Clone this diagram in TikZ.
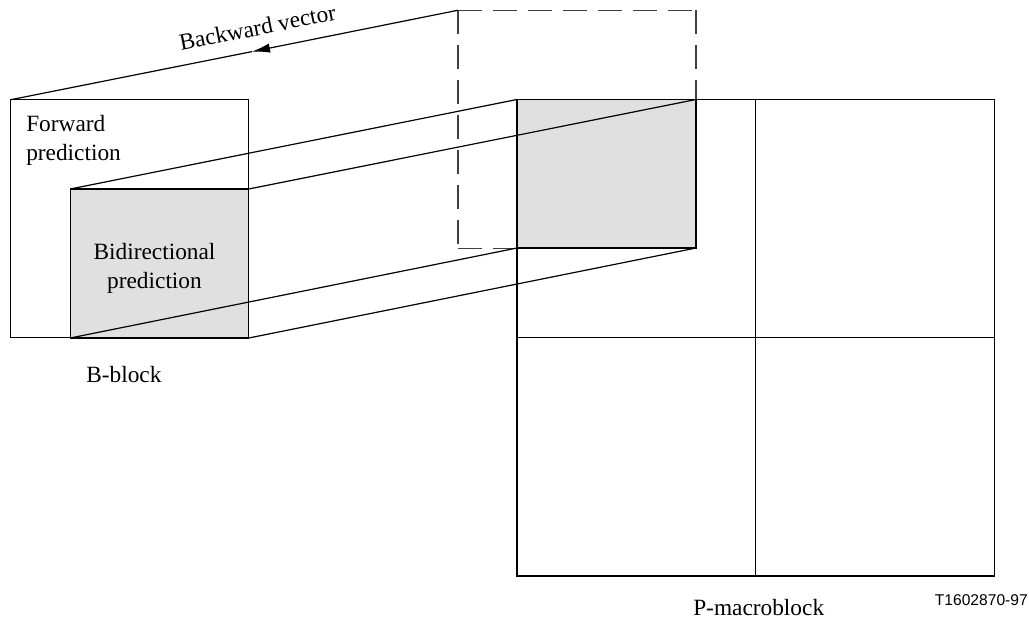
\documentclass[tikz,border=0pt]{standalone}
\usepackage{fontspec}
\setmainfont{Liberation Serif}
\newfontfamily\tagfont{Liberation Sans}
\usepackage{tikz}
\usetikzlibrary{
  arrows.meta
}
\tikzset{
  block/.style={draw,line width=0.9pt,inner sep=0pt,outer sep=0pt},
  shaded block/.style={block,fill=shade},
  ghost line/.style={draw=black!75,line width=1pt,dash pattern=on 18pt off 8.25pt},
  every label text/.style={inner sep=0pt,font=\fontsize{17.5}{21.4}\selectfont},
  link/.style={line width=0.9pt},
}
\colorlet{shade}{black!12}

\begin{document}
\begin{tikzpicture}[
  x=0.75pt,y=-0.75pt,
]
\useasboundingbox (0,0) rectangle (1029,619);

\node[block,minimum width=178.5pt,minimum height=178.5pt] (b-block) at (129.5,218.75) {};
\node[shaded block,minimum width=133.9pt,minimum height=111.75pt] (b-core) at (159.5,263.5) {};

\node[block,minimum width=358.2pt,minimum height=357.4pt] (p-block) at (755.8,337.75) {};
\draw[block] (p-block.north) -- (p-block.south);
\draw[block] (p-block.west) -- (p-block.east);
\node[inner sep=0pt,outer sep=0pt,minimum width=178.5pt,minimum height=178.5pt] (p-ghost) at (577,129.25) {};
\draw[ghost line] (p-ghost.north west) -- (p-ghost.north east);
\draw[ghost line] (p-ghost.north east) -- (p-ghost.south east);
\draw[ghost line] (p-ghost.north west) -- (p-ghost.south west);
\draw[ghost line] (p-ghost.south west) -- (p-ghost.south east);
\node[shaded block,minimum width=134.25pt,minimum height=111.4pt] (p-core) at (606.5,173.75) {};

\coordinate (vector-tip) at (252,51.6);
\draw[link] (b-block.north west) -- (vector-tip);
\draw[link,-{Latex[length=13.5pt,width=7pt]}] (p-ghost.north west) -- (vector-tip);
\draw[link] (b-core.north west) -- (p-core.north west);
\draw[link] (b-core.north east) -- (p-core.north east);
\draw[link] (b-core.south west) -- (p-core.south west);
\draw[link] (b-core.south east) -- (p-core.south east);

\node[every label text,rotate=11.25] (vector-text) at (257.5,27.5) {Backward vector};
\node[every label text,align=left,anchor=west] (forward-text) at (26,140.5) {Forward\\prediction};
\node[every label text,align=center] (bidir-text) at (154.5,268.5) {Bidirectional\\prediction};
\node[every label text,anchor=base west] (b-text) at (86,382) {B-block};
\node[every label text,anchor=base west] (p-text) at (693,615) {P-macroblock};
\node[inner sep=0pt,anchor=base east,font=\tagfont\fontsize{11.7}{14}\selectfont] (tag-text) at (1028,605) {T1602870-97};
\end{tikzpicture}
\end{document}
